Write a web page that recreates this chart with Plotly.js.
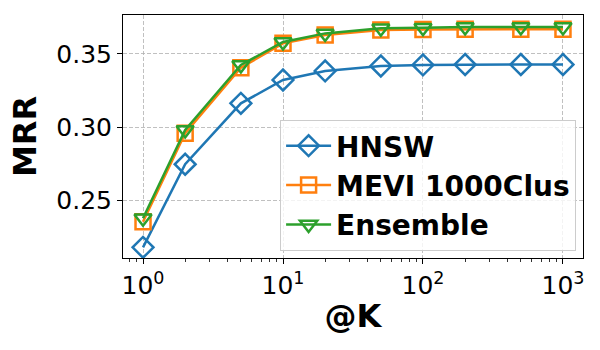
<!DOCTYPE html>
<html>
<head>
<meta charset="utf-8">
<script src="https://cdn.plot.ly/plotly-3.0.1.min.js"></script>
<style>html,body{margin:0;padding:0;background:#fff;}#chart{width:600px;height:350px;}</style>
</head>
<body>
<div id="chart"></div>
<script>
var K = [1, 2, 5, 10, 20, 50, 100, 200, 500, 1000];
var hnsw = [0.2176, 0.2745, 0.3162, 0.3322, 0.3384, 0.3418, 0.3425, 0.3428, 0.3428, 0.3428];
var mevi = [0.2351, 0.2957, 0.3406, 0.3573, 0.3630, 0.3664, 0.3668, 0.3670, 0.3670, 0.3670];
var ensemble = [0.2375, 0.2980, 0.3425, 0.3582, 0.3641, 0.3676, 0.3680, 0.3685, 0.3685, 0.3685];
var seriesNames = ['HNSW', 'MEVI 1000Clus', 'Ensemble'];
var xTickVals = [1, 10, 100, 1000];
var xTickText = ['10<sup>0</sup>', '10<sup>1</sup>', '10<sup>2</sup>', '10<sup>3</sup>'];
var yTickVals = [0.25, 0.30, 0.35];
var yTickText = ['0.25', '0.30', '0.35'];

var minorVals = [];
for (var d = 0; d < 4; d++) {
  for (var m = 2; m <= 9; m++) {
    var v = m * Math.pow(10, d);
    if (v < 1400) minorVals.push(v);
  }
}
minorVals.unshift(0.8, 0.9);

function trace(y, name, color, symbol, size) {
  return {
    x: K, y: y, name: name, type: 'scatter', mode: 'lines+markers',
    line: {color: color, width: 2.5},
    marker: {symbol: symbol, size: size, color: color, line: {color: color, width: 2.5}}
  };
}

var data = [
  trace(hnsw, seriesNames[0], '#1f77b4', 'diamond-open', 16),
  trace(mevi, seriesNames[1], '#ff7f0e', 'square-open', 15),
  trace(ensemble, seriesNames[2], '#2ca02c', 'triangle-down-open', 15)
];

var layout = {
  width: 600, height: 350,
  margin: {l: 123, r: 17, t: 15, b: 92},
  paper_bgcolor: '#fff', plot_bgcolor: '#fff',
  font: {family: 'DejaVu Sans', color: '#000'},
  showlegend: true,
  legend: {
    x: 0.985, y: 0.029, xanchor: 'right', yanchor: 'bottom',
    bgcolor: 'rgba(255,255,255,0.8)', bordercolor: '#cccccc', borderwidth: 1,
    font: {family: 'DejaVu Sans', size: 28, color: '#000', weight: 'bold'},
    itemwidth: 45,
    tracegroupgap: 0
  },
  xaxis: {
    type: 'log', range: [-0.143, 3.143],
    tickmode: 'array', tickvals: xTickVals, ticktext: xTickText,
    ticks: 'outside', ticklen: 5, tickwidth: 1, tickcolor: '#000',
    tickfont: {family: 'DejaVu Sans', size: 25, color: '#000'},
    showline: true, mirror: true, linecolor: '#000', linewidth: 1,
    showgrid: true, gridcolor: '#b0b0b0', griddash: '4px,2px', gridwidth: 0.8,
    zeroline: false,
    minor: {tickmode: 'array', tickvals: minorVals, ticks: 'outside', ticklen: 3, tickwidth: 0.8, tickcolor: '#000', showgrid: false},
    title: {text: '@K', font: {family: 'DejaVu Sans', size: 32, color: '#000', weight: 'bold'}, standoff: 5}
  },
  yaxis: {
    range: [0.2103, 0.3767],
    tickmode: 'array', tickvals: yTickVals, ticktext: yTickText,
    ticks: 'outside', ticklen: 5, tickwidth: 1, tickcolor: '#000',
    tickfont: {family: 'DejaVu Sans', size: 25, color: '#000'},
    showline: true, mirror: true, linecolor: '#000', linewidth: 1,
    showgrid: true, gridcolor: '#b0b0b0', griddash: '4px,2px', gridwidth: 0.8,
    zeroline: false,
    title: {text: 'MRR', font: {family: 'DejaVu Sans', size: 32, color: '#000', weight: 'bold'}, standoff: 10}
  }
};

Plotly.newPlot('chart', data, layout, {displayModeBar: false, staticPlot: true});
</script>
</body>
</html>
